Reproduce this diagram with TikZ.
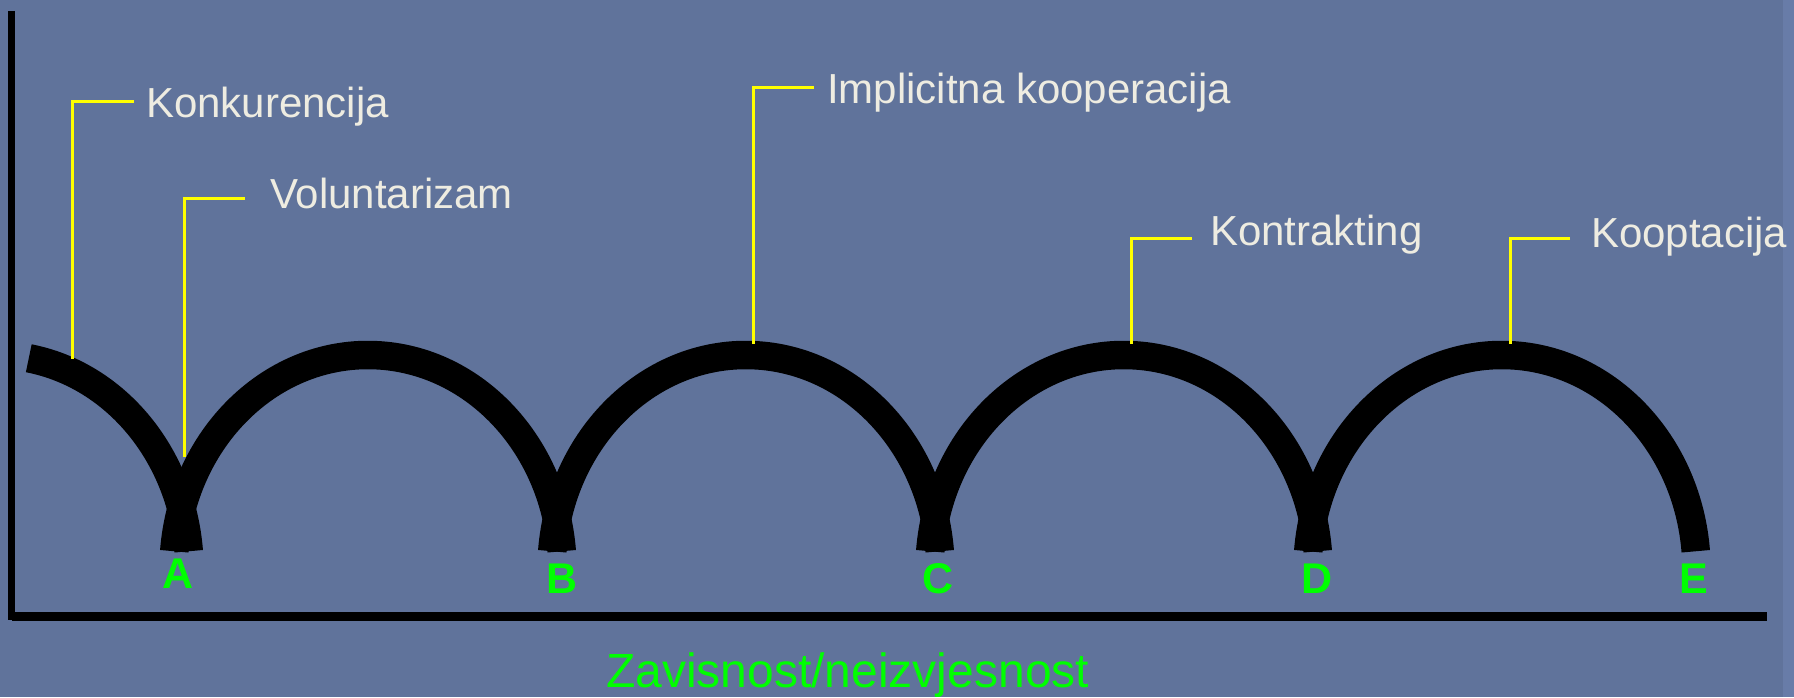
\documentclass[tikz,border=0pt]{standalone}
\usepackage{fontspec}
\setmainfont{Liberation Sans}
\definecolor{bg}{RGB}{96,115,155}
\definecolor{stripc}{RGB}{104,124,168}
\definecolor{lblc}{HTML}{EEECE1}
\definecolor{grn}{HTML}{00FF00}
\definecolor{ldr}{HTML}{FFFF00}
\begin{document}
\begin{tikzpicture}[x=1pt,y=1pt,
  arcline/.style={line width=28.5pt, black, line cap=butt},
  leader/.style={ldr, line width=3pt},
  lbltext/.style={text=lblc, inner sep=0pt, anchor=base west, font=\fontsize{42}{50}\selectfont},
  ptlabel/.style={text=grn, inner sep=0pt, anchor=base, font=\fontsize{43}{50}\selectfont\bfseries},
  axislbl/.style={text=grn, inner sep=0pt, anchor=base west, font=\fontsize{48}{56}\selectfont},
]
\fill[bg] (0,0) rectangle (1794,697);
\fill[stripc] (1783,0) rectangle (1794,697);
\useasboundingbox (0,0) rectangle (1794,697);

% axes
\coordinate (ytop) at (11.5,686);
\coordinate (ybot) at (11.5,77);
\coordinate (origin) at (11.5,80.5);
\coordinate (xend) at (1767,80.5);
\draw[black, line width=7pt] (ytop) -- (ybot);
\draw[black, line width=8.5pt] (origin) -- (xend);

% arcs
\draw[arcline] ([shift={(-5,127)}]80:194.5pt and 215pt) arc[start angle=80,end angle=5,x radius=194.5pt,y radius=215pt];
\foreach \c in {368,746,1124,1502}{
  \draw[arcline] ([shift={(\c,127)}]175:194.5pt and 215pt) arc[start angle=175,end angle=5,x radius=194.5pt,y radius=215pt];
}

% leaders
\coordinate (kH) at (134,595);   \coordinate (kA) at (72,338);
\coordinate (vH) at (245,498);   \coordinate (vA) at (184,240);
\coordinate (iH) at (814,609.3); \coordinate (iA) at (753,353);
\coordinate (tH) at (1192,458.3);\coordinate (tA) at (1131,353);
\coordinate (pH) at (1570,458.3);\coordinate (pA) at (1510,353);
\draw[leader] (kH) -| (kA);
\draw[leader] (vH) -| (vA);
\draw[leader] (iH) -| (iA);
\draw[leader] (tH) -| (tA);
\draw[leader] (pH) -| (pA);

% labels
\node[lbltext] (konk) at (146,579) {Konkurencija};
\node[lbltext] (volu) at (270,488) {Voluntarizam};
\node[lbltext] (impl) at (827,593.7) {Implicitna kooperacija};
\node[lbltext] (kontr) at (1210,451) {Kontrakting};
\node[lbltext] (koopt) at (1591,449.7) {Kooptacija};

% point letters
\node[ptlabel] (A) at (178,109) {A};
\node[ptlabel] (B) at (562,104) {B};
\node[ptlabel] (C) at (938,104) {C};
\node[ptlabel] (D) at (1317,104) {D};
\node[ptlabel] (E) at (1694,104) {E};

\node[axislbl] (xlab) at (606,10) {Zavisnost/neizvjesnost};
\end{tikzpicture}
\end{document}
